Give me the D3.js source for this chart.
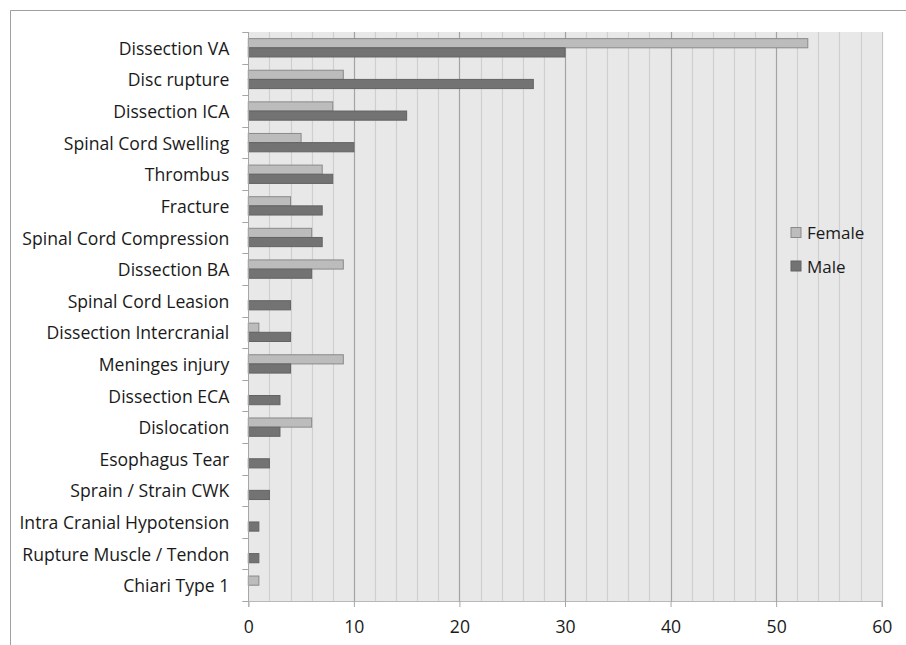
<!DOCTYPE html>
<html><head><meta charset="utf-8">
<script src="https://cdn.jsdelivr.net/npm/d3@7"></script>
<style>body{margin:0;background:#fff;} svg{display:block;}</style>
</head><body>
<script>
const categories = ["Dissection VA","Disc rupture","Dissection ICA","Spinal Cord Swelling","Thrombus","Fracture","Spinal Cord Compression","Dissection BA","Spinal Cord Leasion","Dissection Intercranial","Meninges injury","Dissection ECA","Dislocation","Esophagus Tear","Sprain / Strain CWK","Intra Cranial Hypotension","Rupture Muscle / Tendon","Chiari Type 1"];
const female = [53,9,8,5,7,4,6,9,0,1,9,0,6,0,0,0,0,1];
const male   = [30,27,15,10,8,7,7,6,4,4,4,3,3,2,2,1,1,0];
const seriesNames = ["Female","Male"];
const xTicks = [0,10,20,30,40,50,60];
const minorTicks = [2,4,6,8,12,14,16,18,22,24,26,28,32,34,36,38,42,44,46,48,52,54,56,58];

const W = 906, H = 645;
const L = 248.3, R = 881.7, T = 32, B = 601;
const colors = {Female:"#bcbcbc", Male:"#737373"};
const strokes = {Female:"#8a8a8a", Male:"#636363"};
const font = "'Open Sans', sans-serif";
const fs = "17.6px";

const svg = d3.select("body").append("svg").attr("width", W).attr("height", H);

svg.append("line").attr("x1",10.5).attr("x2",W).attr("y1",10.5).attr("y2",10.5).attr("stroke","#a0a0a0");
svg.append("line").attr("x1",10.5).attr("x2",10.5).attr("y1",10.5).attr("y2",H).attr("stroke","#a0a0a0");

const x = d3.scaleLinear().domain([0,60]).range([L,R]);
const y = d3.scaleBand().domain(categories).range([T,B]).paddingInner(0.42).paddingOuter(0.21);
const inner = d3.scaleBand().domain(seriesNames).range([0,y.bandwidth()]);

svg.append("rect").attr("x",L).attr("y",T).attr("width",R-L).attr("height",B-T).attr("fill","#e8e8e8");

svg.append("g").selectAll("line").data(minorTicks).join("line")
  .attr("x1",d=>Math.round(x(d))+0.5).attr("x2",d=>Math.round(x(d))+0.5)
  .attr("y1",T).attr("y2",B).attr("stroke","#cfcfcf").attr("stroke-width",1.2);
svg.append("g").selectAll("line").data(xTicks.filter(d=>d>0)).join("line")
  .attr("x1",d=>Math.round(x(d))+0.5).attr("x2",d=>Math.round(x(d))+0.5)
  .attr("y1",T).attr("y2",B).attr("stroke",d=>d===60?"#c4c4c4":"#a3a3a3").attr("stroke-width",1.2);

const rows = categories.map((c,i)=>({c, vals:[{s:"Female",v:female[i]},{s:"Male",v:male[i]}]}));
const g = svg.append("g").selectAll("g").data(rows).join("g")
  .attr("transform",d=>`translate(0,${y(d.c)})`);
g.selectAll("rect").data(d=>d.vals.filter(v=>v.v>0)).join("rect")
  .attr("x",x(0)).attr("y",d=>inner(d.s))
  .attr("width",d=>x(d.v)-x(0)).attr("height",inner.bandwidth())
  .attr("fill",d=>colors[d.s]).attr("stroke",d=>strokes[d.s]).attr("stroke-width",1);

const yAxis = d3.axisLeft(y).tickSize(0).tickPadding(19);
const ya = svg.append("g").attr("transform",`translate(${L},0)`).call(yAxis);
ya.select(".domain").remove();
ya.selectAll("text").attr("font-family",font).attr("font-size",fs).attr("fill","#1a1a1a").attr("dy","0.4em");
const bounds = categories.map(c=>y(c)-y.step()*y.paddingInner()/2).concat([B]);
bounds[0]=T;
svg.append("g").selectAll("line").data(bounds).join("line")
  .attr("x1",L-6).attr("x2",L).attr("y1",d=>Math.round(d)+0.5).attr("y2",d=>Math.round(d)+0.5)
  .attr("stroke","#a6a6a6");
svg.append("line").attr("x1",Math.round(L)+0.5).attr("x2",Math.round(L)+0.5).attr("y1",T).attr("y2",B).attr("stroke","#a6a6a6");

const xa = svg.append("g").attr("transform",`translate(0,${B})`)
  .call(d3.axisBottom(x).tickValues(xTicks).tickSize(6).tickPadding(14));
xa.select(".domain").attr("stroke","#b8b8b8");
xa.selectAll("line").attr("stroke","#a6a6a6");
xa.selectAll("text").attr("font-family",font).attr("font-size",fs).attr("fill","#1a1a1a");

const lg = svg.append("g").selectAll("g").data(seriesNames).join("g")
  .attr("transform",(d,i)=>`translate(791,${227.5+i*33.5})`);
lg.append("rect").attr("width",10).attr("height",10).attr("fill",d=>colors[d]).attr("stroke",d=>strokes[d]);
lg.append("text").attr("x",16).attr("y",5).attr("dy","0.4em").text(d=>d)
  .attr("font-family",font).attr("font-size","17px").attr("fill","#1a1a1a");
</script>
</body></html>
